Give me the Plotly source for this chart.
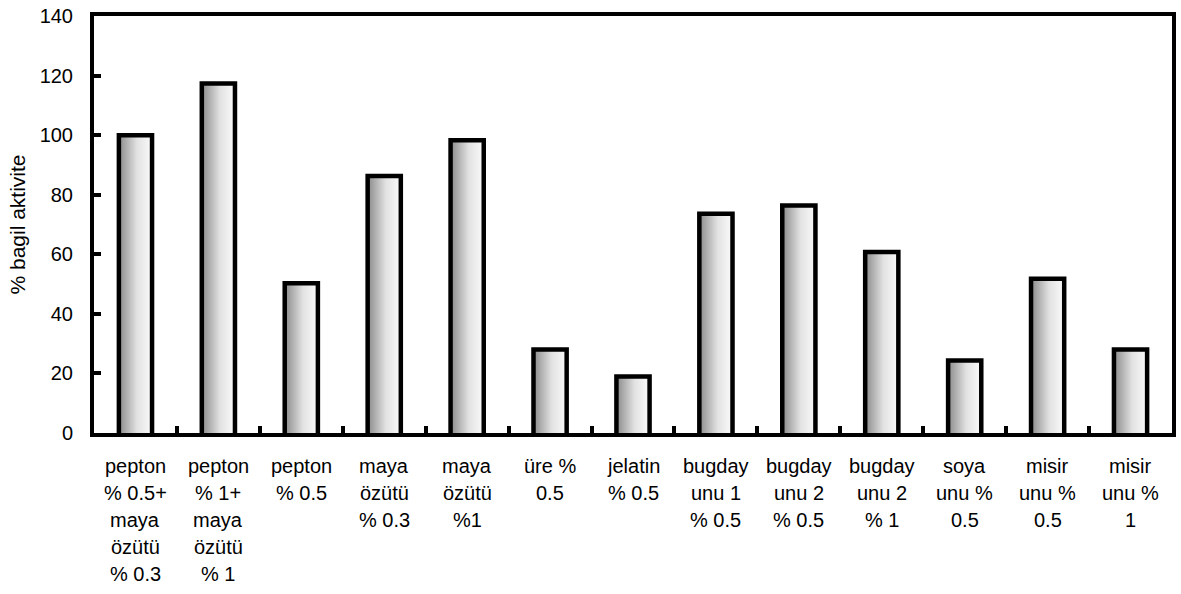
import plotly.graph_objects as go

# Relative activity for each medium composition
categories = [
    ["pepton", "% 0.5+", "maya", "özütü", "% 0.3"],
    ["pepton", "% 1+", "maya", "özütü", "% 1"],
    ["pepton", "% 0.5"],
    ["maya", "özütü", "% 0.3"],
    ["maya", "özütü", "%1"],
    ["üre %", "0.5"],
    ["jelatin", "% 0.5"],
    ["bugday", "unu 1", "% 0.5"],
    ["bugday", "unu 2", "% 0.5"],
    ["bugday", "unu 2", "% 1"],
    ["soya", "unu %", "0.5"],
    ["misir", "unu %", "0.5"],
    ["misir", "unu %", "1"],
]
activity = [100, 117.3, 50.3, 86.3, 98.3, 28.0, 19.0, 73.6, 76.4, 60.8, 24.3, 51.8, 28.0]
y_ticks = [0, 20, 40, 60, 80, 100, 120, 140]

BAR_W = 0.40
FONT = "Liberation Sans, Arial, sans-serif"
LABEL_SIZE = 20
LINE_STEP = 27

positions = list(range(len(categories)))
boundaries = [p + 0.5 for p in positions[:-1]]

fig = go.Figure()

# Each bar: grey-to-white horizontal gradient with a heavy black outline
for pos, val in zip(positions, activity):
    x0, x1 = pos - BAR_W / 2, pos + BAR_W / 2
    fig.add_trace(go.Scatter(
        x=[x0, x0, x1, x1],
        y=[0, val, val, 0],
        mode="lines",
        line=dict(color="black", width=4.5),
        fill="toself",
        fillgradient=dict(
            type="horizontal",
            colorscale=[[0, "#8a8a8a"], [0.55, "#e2e2e2"], [1, "#fbfbfb"]],
        ),
        hoverinfo="skip",
        showlegend=False,
        cliponaxis=False,
    ))

# Multi-line category labels under the axis
annotations = []
for pos, lines in zip(positions, categories):
    for k, line in enumerate(lines):
        annotations.append(dict(
            x=pos, y=0, xref="x", yref="y",
            text=line, showarrow=False,
            xanchor="center", yanchor="middle",
            yshift=-(33 + LINE_STEP * k),
            font=dict(family=FONT, size=LABEL_SIZE, color="black"),
        ))

fig.update_layout(
    width=1181,
    height=594,
    margin=dict(l=94, r=5, t=12, b=161),
    plot_bgcolor="white",
    paper_bgcolor="white",
    font=dict(family=FONT, size=20, color="black"),
    annotations=annotations,
    xaxis=dict(
        range=[-0.5, len(categories) - 0.5],
        tickvals=boundaries,
        ticktext=[""] * len(boundaries),
        ticks="inside",
        ticklen=7,
        tickwidth=4,
        tickcolor="black",
        showgrid=False,
        zeroline=False,
        showline=True,
        linecolor="black",
        linewidth=4,
        mirror=True,
    ),
    yaxis=dict(
        range=[0, 140],
        tickvals=y_ticks,
        ticks="inside",
        ticklen=7,
        tickwidth=4,
        tickcolor="black",
        showgrid=False,
        zeroline=False,
        showline=True,
        linecolor="black",
        linewidth=4,
        mirror=True,
        ticklabelstandoff=13,
        tickfont=dict(family=FONT, size=20, color="black"),
        title=dict(
            text="% bagil aktivite",
            font=dict(family=FONT, size=21, color="black"),
            standoff=9,
        ),
    ),
)

fig.write_html("out.html")
